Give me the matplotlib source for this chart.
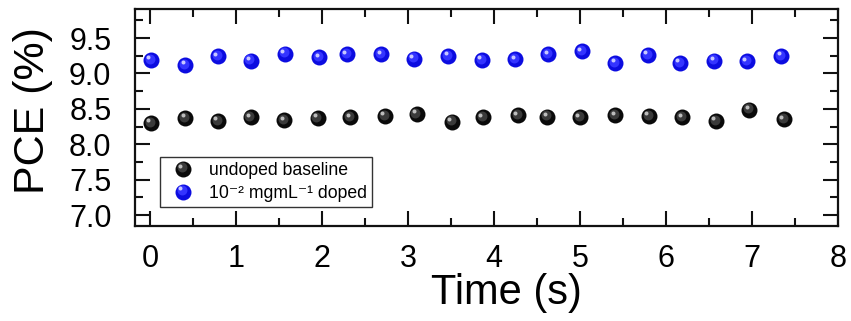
import matplotlib
matplotlib.use("Agg")
import matplotlib.pyplot as plt
from matplotlib.transforms import offset_copy
from matplotlib.lines import Line2D
from matplotlib.legend_handler import HandlerBase
from matplotlib.ticker import MultipleLocator

plt.rcParams['font.family'] = ['Liberation Sans', 'DejaVu Sans']

# ---- data ----
time_undoped = [0.01, 0.41, 0.79, 1.17, 1.56, 1.95, 2.33, 2.73, 3.10, 3.51,
                3.87, 4.28, 4.62, 5.00, 5.41, 5.80, 6.19, 6.58, 6.97, 7.37]
pce_undoped = [8.30, 8.37, 8.33, 8.38, 8.34, 8.37, 8.38, 8.40, 8.43, 8.32,
               8.38, 8.41, 8.39, 8.38, 8.41, 8.40, 8.38, 8.33, 8.49, 8.35]
time_doped = [0.01, 0.41, 0.79, 1.17, 1.57, 1.97, 2.29, 2.69, 3.07, 3.47,
              3.86, 4.25, 4.63, 5.02, 5.41, 5.79, 6.16, 6.56, 6.94, 7.34]
pce_doped = [9.19, 9.12, 9.24, 9.18, 9.28, 9.23, 9.27, 9.27, 9.21, 9.25,
             9.19, 9.20, 9.27, 9.31, 9.15, 9.26, 9.15, 9.18, 9.17, 9.25]
series_labels = ["undoped baseline", "10\u207b\u00b2 mgmL\u207b\u00b9 doped"]
yticks = [7.0, 7.5, 8.0, 8.5, 9.0, 9.5]
ytick_labels = ["7.0", "7.5", "8.0", "8.5", "9.0", "9.5"]
xlabel = "Time (s)"
ylabel = "PCE (%)"

# sphere colour layers: (base, mid, highlight)
black_layers = ["#0a0a0a", "#3a3a3a", "#bdbdbd"]
blue_layers = ["#0c0ce0", "#3434ff", "#c8c8ff"]

MS = 11.5

fig = plt.figure(figsize=(8.51, 3.21), dpi=100)
ax = fig.add_axes([135/851, 1-226/321, 703/851, 217/321])


def sphere(ax, x, y, layers):
    ax.plot(x, y, 'o', ls='none', ms=MS, color=layers[0], mew=0, zorder=3)
    t1 = offset_copy(ax.transData, fig=fig, x=-1.2, y=1.2, units='dots')
    ax.plot(x, y, 'o', ls='none', ms=MS*0.62, color=layers[1], mew=0,
            transform=t1, zorder=4)
    t2 = offset_copy(ax.transData, fig=fig, x=-2.6, y=2.6, units='dots')
    ax.plot(x, y, 'o', ls='none', ms=MS*0.25, color=layers[2], mew=0,
            transform=t2, zorder=5)


sphere(ax, time_undoped, pce_undoped, black_layers)
sphere(ax, time_doped, pce_doped, blue_layers)


class SphereHandler(HandlerBase):
    def __init__(self, layers):
        super().__init__()
        self.layers = layers

    def create_artists(self, legend, orig_handle, xdescent, ydescent,
                       width, height, fontsize, trans):
        cx = width / 2 - xdescent
        cy = height / 2 - ydescent
        arts = []
        specs = [(0, 0, 1.0), (-1.0, 1.0, 0.62), (-2.2, 2.2, 0.25)]
        for (dx, dy, s), col in zip(specs, self.layers):
            ln = Line2D([cx + dx], [cy + dy], marker='o', ls='none',
                        ms=MS * s, color=col, mew=0)
            ln.set_transform(trans)
            arts.append(ln)
        return arts


h1 = Line2D([], [], marker='o', ls='none', color=black_layers[0])
h2 = Line2D([], [], marker='o', ls='none', color=blue_layers[0])
leg = ax.legend([h1, h2], series_labels,
                handler_map={h1: SphereHandler(black_layers),
                             h2: SphereHandler(blue_layers)},
                loc='lower left', bbox_to_anchor=(0.0356, 0.0876),
                borderaxespad=0, fontsize=12.7, frameon=True, fancybox=False,
                edgecolor='#333333', framealpha=1, handlelength=2.0,
                handletextpad=0.45, borderpad=0.3, labelspacing=0.32)
leg.get_frame().set_linewidth(1.0)
leg.set_zorder(6)

ax.set_xlim(-0.174, 8.0)
ax.set_ylim(6.845, 9.91)
ax.xaxis.set_major_locator(MultipleLocator(1))
ax.xaxis.set_minor_locator(MultipleLocator(0.5))
ax.yaxis.set_minor_locator(MultipleLocator(0.25))
ax.set_yticks(yticks)
ax.set_yticklabels(ytick_labels)

ax.tick_params(which='both', direction='in', top=True, right=True,
               width=1.5, color='#111111')
ax.tick_params(which='major', length=11)
ax.tick_params(which='minor', length=6)
ax.tick_params(axis='x', which='major', labelsize=22, pad=13)
ax.tick_params(axis='y', which='major', labelsize=22, pad=17)
for sp in ax.spines.values():
    sp.set_linewidth(1.6)
    sp.set_color('#111111')

ax.set_xlabel(xlabel, fontsize=30)
ax.set_ylabel(ylabel, fontsize=31)
ax.xaxis.set_label_coords(0.528, -0.216)
ax.yaxis.set_label_coords(-0.117, 0.53)

fig.savefig("out.png", dpi=100)
